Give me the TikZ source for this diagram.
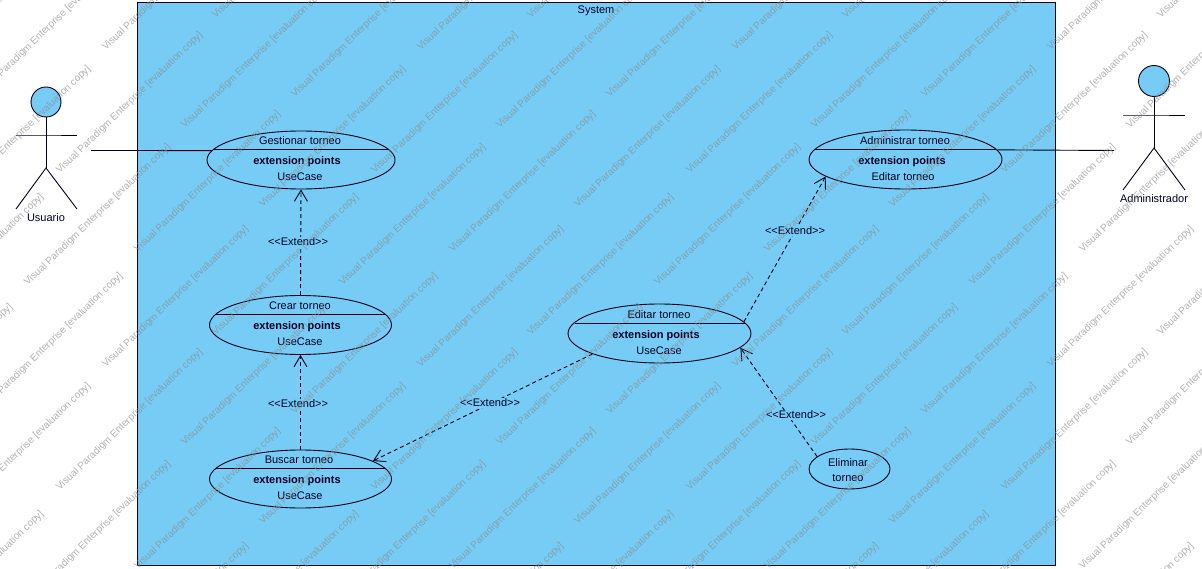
\documentclass[tikz,border=0pt]{standalone}
\usepackage{fontspec}
\setmainfont{Liberation Sans}
\usetikzlibrary{shapes.geometric,arrows.meta,calc}
\definecolor{sysblue}{HTML}{76CCF5}
\definecolor{wmark}{HTML}{8A8A8A}
\tikzset{
  ln/.style={line width=0.9pt,draw=black!90!blue},
  uc/.style={ln,ellipse,inner sep=0pt,fill=sysblue},
  txt/.style={inner sep=0pt,yshift=-1pt,font=\fontsize{11}{13}\selectfont,text=black!85!blue},
  bold/.style={txt,xshift=1pt,font=\fontsize{11}{13}\selectfont\bfseries},
  ext/.style={ln,dashed,dash pattern=on 4pt off 3pt,-{Straight Barb[length=11pt,width=13pt,line width=0.9pt]}},
  extlabel/.style={txt,fill=sysblue,inner sep=1pt},
  wm/.style={anchor=west,rotate=44,inner sep=0pt,font=\fontsize{10}{12}\selectfont,text=wmark,text opacity=0.65}
}
\begin{document}
\begin{tikzpicture}[x=1pt,y=-1pt]
\useasboundingbox (0,0) rectangle (1202,569);
\clip (0,0) rectangle (1202,569);
\fill[white] (0,0) rectangle (1202,569);
% system
\node[ln,fill=sysblue,rectangle,inner sep=0pt,minimum width=918pt,minimum height=563pt] (sys) at (596,283.5) {};
\node[txt] (systitle) at (596,10) {System};
% actors
\node[ln,circle,fill=sysblue,inner sep=0pt,minimum size=30pt] (uhead) at (46,102) {};
\coordinate (uhip) at (46,168);
\coordinate (uarm) at (46,135);
\draw[ln] (uhead.south) -- (uhip);
\draw[ln] (16,135) -- (uarm) -- (77,135);
\draw[ln] (16,209) -- (uhip) -- (77,209);
\node[txt] (ulabel) at (46,217) {Usuario};
\node[ln,circle,fill=sysblue,inner sep=0pt,minimum size=31pt] (ahead) at (1154,81) {};
\coordinate (ahip) at (1154,148);
\coordinate (aarm) at (1154,115);
\draw[ln] (ahead.south) -- (ahip);
\draw[ln] (1123,115) -- (aarm) -- (1185,115);
\draw[ln] (1123,190) -- (ahip) -- (1185,190);
\node[txt] (alabel) at (1154,198) {Administrador};
% use cases
\node[uc,minimum width=188pt,minimum height=58pt] (gest) at (301,160) {};
\node[uc,minimum width=182pt,minimum height=59pt] (crear) at (300.5,325) {};
\node[uc,minimum width=182pt,minimum height=58pt] (buscar) at (300.5,479) {};
\node[uc,minimum width=183pt,minimum height=59pt] (editar) at (659.5,333.5) {};
\node[uc,minimum width=193pt,minimum height=59pt] (admin) at (905.5,159.5) {};
\node[uc,minimum width=81pt,minimum height=40pt] (elim) at (849.5,469) {};
% compartments
\draw[ln] ($(gest.center)+(-87.6,-10.5)$) -- ($(gest.center)+(87.6,-10.5)$);
\draw[ln] ($(crear.center)+(-84.4,-11)$) -- ($(crear.center)+(84.4,-11)$);
\draw[ln] ($(buscar.center)+(-84.4,-11)$) -- ($(buscar.center)+(84.4,-11)$);
\draw[ln] ($(editar.center)+(-85,-10.5)$) -- ($(editar.center)+(85,-10.5)$);
\draw[ln] ($(admin.center)+(-90.8,-10)$) -- ($(admin.center)+(90.8,-10)$);
% texts
\node[txt] (t1) at (300,140) {Gestionar torneo};
\node[bold] (t1b) at (296,161) {extension points};
\node[txt] (t1c) at (300,176) {UseCase};
\node[txt] (t2) at (300,305) {Crear torneo};
\node[bold] (t2b) at (296,326) {extension points};
\node[txt] (t2c) at (300,341) {UseCase};
\node[txt] (t3) at (299,459) {Buscar torneo};
\node[bold] (t3b) at (296,480) {extension points};
\node[txt] (t3c) at (300,495) {UseCase};
\node[txt] (t4) at (659,314) {Editar torneo};
\node[bold] (t4b) at (655,335) {extension points};
\node[txt] (t4c) at (659,350) {UseCase};
\node[txt] (t5) at (905,140) {Administrar torneo};
\node[bold] (t5b) at (901,161) {extension points};
\node[txt] (t5c) at (903,176) {Editar torneo};
\node[txt,align=center] (t6) at (848,469) {Eliminar\\[2pt]torneo};
% connectors
\coordinate (uend) at (91,150.5);
\coordinate (aend) at (1114,150.5);
\draw[ln] (uend) -- (gest.174);
\draw[ln] (admin.6) -- (aend);
\draw[ext] (crear.north) -- (gest.south);
\draw[ext] (buscar.north) -- (crear.south);
\draw[ext] (editar.197) -- (buscar.14);
\draw[ext] (editar.8) -- (admin.192);
\draw[ext] (elim.159) -- (editar.-10);
\node[extlabel] (l1) at (298,241) {<{}<Extend>{}>};
\node[extlabel] (l2) at (298,403) {<{}<Extend>{}>};
\node[extlabel] (l3) at (490,402) {<{}<Extend>{}>};
\node[extlabel] (l4) at (795,230) {<{}<Extend>{}>};
\node[extlabel] (l5) at (796,414) {<{}<Extend>{}>};
% watermark
\foreach \i in {-1,0,1,2,3}{
  \foreach \j in {-1,0,1,2}{
    \foreach \px/\py in {213/18,103/50,292/97,182/128,57/173,260/207,135/252,25/285}{
      \node[wm] at ({\px+315*\i+1},{\py+317*\j-1}) {Visual Paradigm Enterprise [evaluation copy]};
    }
  }
}
\end{tikzpicture}
\end{document}
